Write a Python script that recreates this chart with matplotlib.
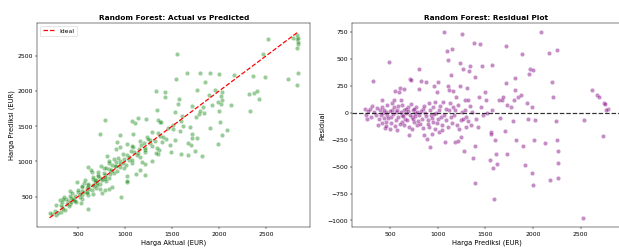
import numpy as np
import matplotlib
matplotlib.use('Agg')
import matplotlib.pyplot as plt

# predicted price (EUR) and residual (actual - predicted)
harga_prediksi = np.array([
    233, 250, 261, 285, 306, 317, 349, 377, 394, 412, 419, 430, 437, 447, 454,
    461, 472, 489, 496, 507, 518, 525, 542, 549, 560, 567, 577, 588, 595, 602,
    613, 623, 630, 641, 648, 658, 669, 683, 694, 701, 708, 722, 729, 736, 746,
    757, 771, 778, 799, 806, 806, 813, 827, 834, 841, 855, 869, 876, 883, 894,
    904, 912, 922, 929, 940, 947, 954, 964, 972, 982, 989, 1000, 1003, 1010, 1017,
    1031, 1046, 1060, 1070, 1077, 1088, 1098, 1105, 1105, 1116, 1123, 1130, 1140, 1151, 1158,
    1162, 1172, 1179, 1193, 1200, 1207, 1214, 1228, 1232, 1239, 1246, 1253, 1256, 1264, 1271,
    1281, 1292, 1299, 1306, 1316, 1327, 1334, 1352, 1362, 1369, 1380, 1387, 1387, 1391, 1405,
    1419, 1433, 1443, 1458, 1468, 1475, 1493, 1503, 1514, 1545, 1556, 1563, 1567, 1574, 1581,
    1588, 1595, 1609, 1616, 1637, 1651, 1669, 1687, 1704, 1711, 1718, 1722, 1729, 1771, 1792,
    1803, 1806, 1813, 1820, 1841, 1869, 1890, 1915, 1933, 1950, 1954, 1968, 1986, 1989, 2003,
    2003, 2014, 2021, 1880, 2080, 2123, 2172, 2200, 2207, 2170, 2235, 2246, 2250, 2260, 2260,
    2260, 2531, 2524, 2615, 2665, 2690, 2740, 2755, 2790, 2760, 2733,
    270, 300, 330, 360, 380, 400, 420, 440, 460, 470, 480, 500, 510, 530, 545,
    555, 570, 585, 600, 610, 620, 635, 650, 665, 680, 690, 705, 715, 730, 740,
    750, 765, 780, 790, 820, 850, 860, 880, 900, 915, 935, 960, 975, 995, 1020,
    1040, 1065, 1085, 1110, 1135, 1150, 1185, 1220, 1260, 1290, 1320, 1340,
])
residual = np.array([
    31, -22, -62, 40, 62, 295, -22, -115, 25, 118, 56, -6, -47, -140, 9,
    -84, -22, 473, -146, -37, 25, 87, 118, 202, 9, -68, -162, 62, 196, 227,
    118, -22, -84, 221, 25, -53, -6, 56, -131, -208, 311, 305, -37, 25, -84,
    -6, 56, -115, 218, -22, 404, -100, 295, -53, 40, -208, -6, 286, -239, -68,
    87, -131, -317, -22, -193, -84, 56, 249, -146, -6, 196, -53, 286, -177, 25,
    -37, -115, 103, 749, -271, -68, 575, 491, 249, 25, 211, 87, 351, 597, 56,
    205, -22, -271, 149, -115, -264, 72, 249, 466, -68, -224, 734, 9, 410, -355,
    118, -131, -37, 227, 118, 389, 435, -115, 9, -417, 647, 330, -653, -308, -53,
    -131, 149, 637, 56, 435, -22, 196, 118, -6, -442, -177, -193, 441, 25, -510,
    -805, -249, -386, -473, 118, -44, 118, 149, -168, 622, 277, 72, -386, 56, -78,
    118, 323, 211, -255, 149, 165, -311, -488, 87, -53, 361, 407, 50, -560, 398,
    -675, -249, -68, 544, 750, -277, -628, 289, 149, 560, -78, -249, 585, -354, -466,
    -603, -68, -975, 215, 170, 148, 92, 80, 38, 25, -216,
    15, -40, 10, 45, -60, -20, -90, 30, -120, 70, -50, 20, -95, -10, 50,
    -120, 30, -40, -100, 10, 70, -30, -110, 40, -70, 15, -20, 80, -150, -60,
    40, -30, 10, -75, 20, -140, 60, -30, -100, 30, -45, -10, 100, -90, 60,
    -160, -20, 40, -130, -40, -90, 30, -150, -60, 30, -80, 60,
])
harga_aktual = harga_prediksi + residual


def main():
    fig = plt.figure(figsize=(619.4 / 44, 249.4 / 44), dpi=44)
    ax1 = fig.add_axes([0.060, 0.088, 0.441, 0.819])
    ax2 = fig.add_axes([0.569, 0.088, 0.433, 0.819])

    # actual vs predicted
    ax1.scatter(harga_aktual, harga_prediksi, s=50, color='green', alpha=0.4,
                edgecolors='white', linewidths=0.75)
    lo, hi = harga_aktual.min(), harga_aktual.max()
    ax1.plot([lo, hi], [lo, hi], 'r--', lw=2, label='Ideal')
    ax1.set_title('Random Forest: Actual vs Predicted', fontsize=12, fontweight='bold')
    ax1.set_xlabel('Harga Aktual (EUR)', fontsize=11)
    ax1.set_ylabel('Harga Prediksi (EUR)', fontsize=11)
    ax1.set_xticks([500, 1000, 1500, 2000, 2500])
    ax1.set_yticks([500, 1000, 1500, 2000, 2500])
    ax1.legend(loc='upper left')

    # residual plot
    ax2.scatter(harga_prediksi, residual, s=50, color='purple', alpha=0.45,
                edgecolors='white', linewidths=0.75)
    ax2.axhline(0, color='black', linestyle='--', lw=2, alpha=0.8)
    ax2.set_title('Random Forest: Residual Plot', fontsize=12, fontweight='bold')
    ax2.set_xlabel('Harga Prediksi (EUR)', fontsize=11)
    ax2.set_ylabel('Residual', fontsize=11)
    ax2.set_xticks([500, 1000, 1500, 2000, 2500])
    ax2.set_yticks([-1000, -750, -500, -250, 0, 250, 500, 750])

    fig.savefig('out.png', dpi=44)


main()
